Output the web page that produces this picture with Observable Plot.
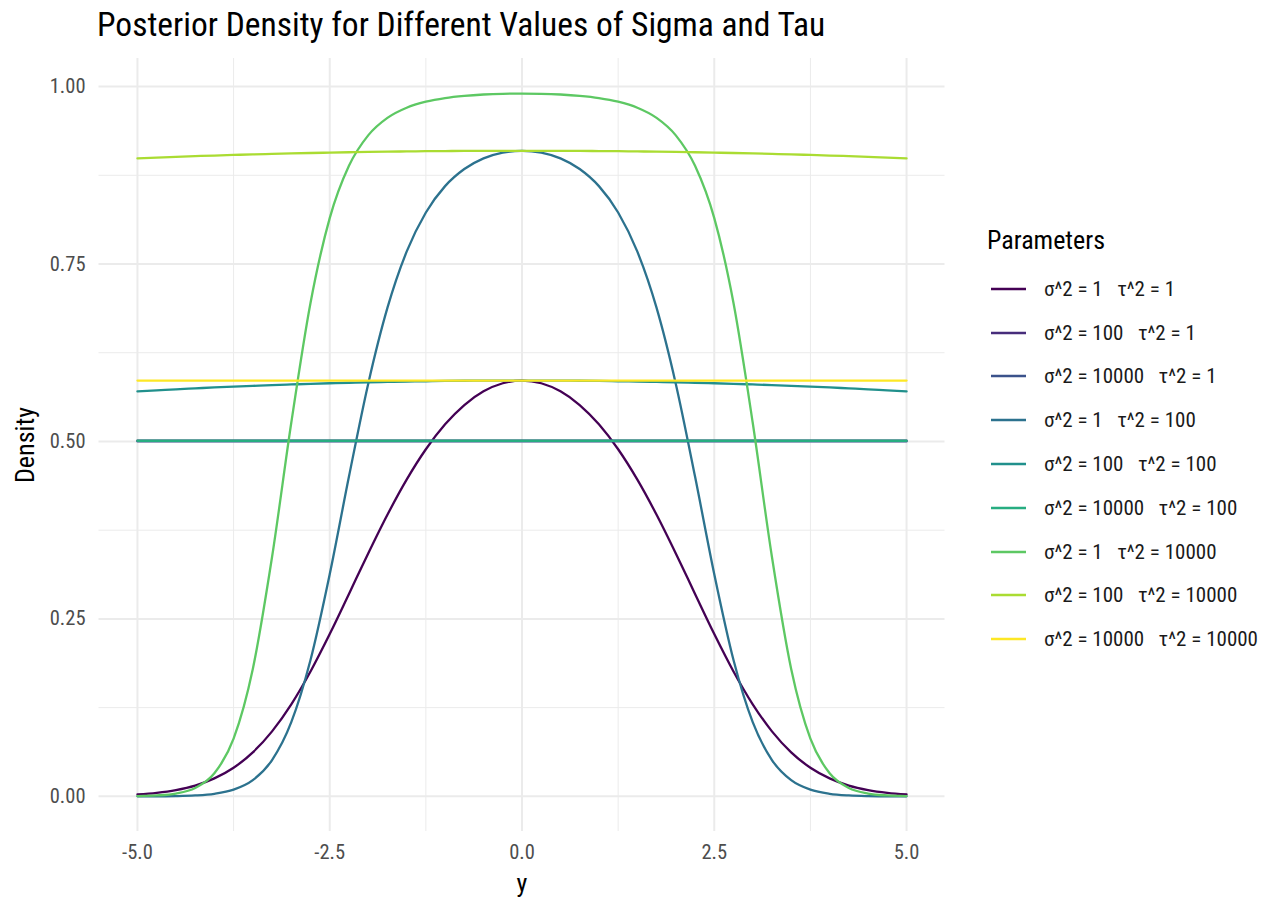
<!DOCTYPE html>
<html>
<head>
<meta charset="utf-8">
<script src="https://cdn.jsdelivr.net/npm/d3@7"></script>
<script src="https://cdn.jsdelivr.net/npm/@observablehq/plot@0.6"></script>
<style>
  html, body { margin: 0; padding: 0; background: #fff; }
  body { width: 1272px; height: 901px; position: relative; overflow: hidden;
         font-family: "Roboto Condensed", "Liberation Sans Narrow", "DejaVu Sans Condensed", Roboto, sans-serif; }
  #title { position: absolute; left: 97px; top: 8px; font-size: 33.5px; line-height: 33.5px; color: #000; white-space: nowrap; z-index: 2; }
  #chart { position: absolute; left: 0; top: 0; z-index: 1; }
  #legend { position: absolute; left: 987px; top: 224px; z-index: 2; }
  #legend .ltitle { font-size: 26px; color: #000; height: 32px; line-height: 32px; margin-bottom: 11px; }
  #legend .row { display: flex; align-items: center; height: 43.8px; }
  #legend .row span { font-size: 21px; color: #1a1a1a; white-space: pre; margin-left: 17px; }
</style>
</head>
<body>
<div id="title">Posterior Density for Different Values of Sigma and Tau</div>
<div id="chart"></div>
<div id="legend"></div>
<script>
// ---- data ----
const yGrid = [-5, -4.75, -4.5, -4.25, -4, -3.75, -3.5, -3.25, -3, -2.75, -2.5, -2.25, -2, -1.75, -1.5, -1.25, -1, -0.75, -0.5, -0.25, 0,
               0.25, 0.5, 0.75, 1, 1.25, 1.5, 1.75, 2, 2.25, 2.5, 2.75, 3, 3.25, 3.5, 3.75, 4, 4.25, 4.5, 4.75, 5];

const labels = [
  "σ^2 = 1   τ^2 = 1",
  "σ^2 = 100   τ^2 = 1",
  "σ^2 = 10000   τ^2 = 1",
  "σ^2 = 1   τ^2 = 100",
  "σ^2 = 100   τ^2 = 100",
  "σ^2 = 10000   τ^2 = 100",
  "σ^2 = 1   τ^2 = 10000",
  "σ^2 = 100   τ^2 = 10000",
  "σ^2 = 10000   τ^2 = 10000"
];

const colors = ["#440154", "#472D7B", "#3B528B", "#2C728E", "#21908C", "#27AD81", "#5DC863", "#AADC32", "#FDE725"];

const s1_1 = [0.0027,0.0050,0.0089,0.0152,0.0253,0.0403,0.0620,0.0916,0.1297,0.1760,0.2287,0.2852,0.3422,0.3967,0.4462,0.4890,0.5241,0.5513,0.5706,0.5820,0.5858,
              0.5820,0.5706,0.5513,0.5241,0.4890,0.4462,0.3967,0.3422,0.2852,0.2287,0.1760,0.1297,0.0916,0.0620,0.0403,0.0253,0.0152,0.0089,0.0050,0.0027];
const s100_1 = [0.501,0.501,0.501,0.501,0.501,0.501,0.501,0.501,0.501,0.501,0.501,0.501,0.501,0.501,0.501,0.501,0.501,0.501,0.501,0.501,0.501,
                0.501,0.501,0.501,0.501,0.501,0.501,0.501,0.501,0.501,0.501,0.501,0.501,0.501,0.501,0.501,0.501,0.501,0.501,0.501,0.501];
const s10000_1 = [0.500,0.500,0.500,0.500,0.500,0.500,0.500,0.500,0.500,0.500,0.500,0.500,0.500,0.500,0.500,0.500,0.500,0.500,0.500,0.500,0.500,
                  0.500,0.500,0.500,0.500,0.500,0.500,0.500,0.500,0.500,0.500,0.500,0.500,0.500,0.500,0.500,0.500,0.500,0.500,0.500,0.500];
const s1_100 = [0.0000,0.0001,0.0004,0.0013,0.0036,0.0094,0.0228,0.0511,0.1045,0.1921,0.3129,0.4505,0.5811,0.6881,0.7674,0.8226,0.8597,0.8838,0.8988,0.9069,0.9095,
                0.9069,0.8988,0.8838,0.8597,0.8226,0.7674,0.6881,0.5811,0.4505,0.3129,0.1921,0.1045,0.0511,0.0228,0.0094,0.0036,0.0013,0.0004,0.0001,0.0000];
const s100_100 = [0.5706,0.5720,0.5735,0.5748,0.5761,0.5772,0.5783,0.5794,0.5803,0.5812,0.5820,0.5827,0.5834,0.5839,0.5844,0.5848,0.5852,0.5855,0.5856,0.5858,0.5858,
                  0.5858,0.5856,0.5855,0.5852,0.5848,0.5844,0.5839,0.5834,0.5827,0.5820,0.5812,0.5803,0.5794,0.5783,0.5772,0.5761,0.5748,0.5735,0.5720,0.5706];
const s10000_100 = [0.501,0.501,0.501,0.501,0.501,0.501,0.501,0.501,0.501,0.501,0.501,0.501,0.501,0.501,0.501,0.501,0.501,0.501,0.501,0.501,0.501,
                    0.501,0.501,0.501,0.501,0.501,0.501,0.501,0.501,0.501,0.501,0.501,0.501,0.501,0.501,0.501,0.501,0.501,0.501,0.501,0.501];
const s1_10000 = [0.0004,0.0013,0.0040,0.0118,0.0325,0.0812,0.1795,0.3372,0.5263,0.6951,0.8146,0.8883,0.9312,0.9558,0.9701,0.9786,0.9838,0.9869,0.9888,0.9898,0.9901,
                  0.9898,0.9888,0.9869,0.9838,0.9786,0.9701,0.9558,0.9312,0.8883,0.8146,0.6951,0.5263,0.3372,0.1795,0.0812,0.0325,0.0118,0.0040,0.0013,0.0004];
const s100_10000 = [0.8988,0.8999,0.9009,0.9019,0.9028,0.9036,0.9044,0.9051,0.9058,0.9064,0.9069,0.9074,0.9079,0.9083,0.9086,0.9089,0.9091,0.9093,0.9094,0.9095,0.9095,
                    0.9095,0.9094,0.9093,0.9091,0.9089,0.9086,0.9083,0.9079,0.9074,0.9069,0.9064,0.9058,0.9051,0.9044,0.9036,0.9028,0.9019,0.9009,0.8999,0.8988];
const s10000_10000 = [0.5858,0.5858,0.5858,0.5858,0.5858,0.5858,0.5858,0.5858,0.5858,0.5858,0.5858,0.5858,0.5858,0.5858,0.5858,0.5858,0.5858,0.5858,0.5858,0.5858,0.5858,
                      0.5858,0.5858,0.5858,0.5858,0.5858,0.5858,0.5858,0.5858,0.5858,0.5858,0.5858,0.5858,0.5858,0.5858,0.5858,0.5858,0.5858,0.5858,0.5858,0.5858];

const seriesValues = [s1_1, s100_1, s10000_1, s1_100, s100_100, s10000_100, s1_10000, s100_10000, s10000_10000];

const xTicks = [-5, -2.5, 0, 2.5, 5];
const xMinor = [-3.75, -1.25, 1.25, 3.75];
const yTicks = [0, 0.25, 0.5, 0.75, 1];
const yMinor = [0.125, 0.375, 0.625, 0.875];

// ---- table ----
const rows = [];
labels.forEach((lab, i) => {
  seriesValues[i].forEach((v, j) => rows.push({param: lab, y: yGrid[j], density: v}));
});

const fontFam = '"Roboto Condensed", "Liberation Sans Narrow", "DejaVu Sans Condensed", Roboto, sans-serif';

const chart = Plot.plot({
  width: 1272,
  height: 901,
  marginLeft: 98.5,
  marginRight: 327.5,
  marginTop: 58,
  marginBottom: 70,
  style: {fontFamily: fontFam, background: "transparent", overflow: "visible"},
  x: {domain: [-5.5, 5.5]},
  y: {domain: [-0.0495, 1.0395]},
  color: {domain: labels, range: colors},
  marks: [
    Plot.ruleX(xMinor, {stroke: "#EBEBEB", strokeWidth: 1}),
    Plot.ruleY(yMinor, {stroke: "#EBEBEB", strokeWidth: 1}),
    Plot.ruleX(xTicks, {stroke: "#EBEBEB", strokeWidth: 2}),
    Plot.ruleY(yTicks, {stroke: "#EBEBEB", strokeWidth: 2}),
    Plot.line(rows, {x: "y", y: "density", z: "param", stroke: "param", strokeWidth: 2.3, curve: "monotone-x"}),
    Plot.axisX(xTicks, {tickSize: 0, tickPadding: 13, fontSize: 20.5, fill: "#4D4D4D", label: null,
                        tickFormat: d => d.toFixed(1)}),
    Plot.axisY(yTicks, {tickSize: 0, tickPadding: 13.5, fontSize: 20.5, fill: "#4D4D4D", label: null,
                        tickFormat: d => d.toFixed(2)}),
    Plot.text(["y"], {frameAnchor: "bottom", dy: 60.5, fontSize: 26, fill: "#000"}),
    Plot.text(["Density"], {frameAnchor: "left", dx: -73.5, rotate: -90, textAnchor: "middle", fontSize: 26, fill: "#000"})
  ]
});
document.getElementById("chart").appendChild(chart);

// ---- legend ----
const legend = document.getElementById("legend");
const lt = document.createElement("div");
lt.className = "ltitle";
lt.textContent = "Parameters";
legend.appendChild(lt);
labels.forEach((lab, i) => {
  const row = document.createElement("div");
  row.className = "row";
  const sw = d3.create("svg").attr("width", 40).attr("height", 20);
  sw.append("line").attr("x1", 4).attr("x2", 39).attr("y1", 10).attr("y2", 10)
    .attr("stroke", colors[i]).attr("stroke-width", 2.6);
  row.appendChild(sw.node());
  const sp = document.createElement("span");
  sp.textContent = lab;
  row.appendChild(sp);
  legend.appendChild(row);
});
</script>
</body>
</html>
